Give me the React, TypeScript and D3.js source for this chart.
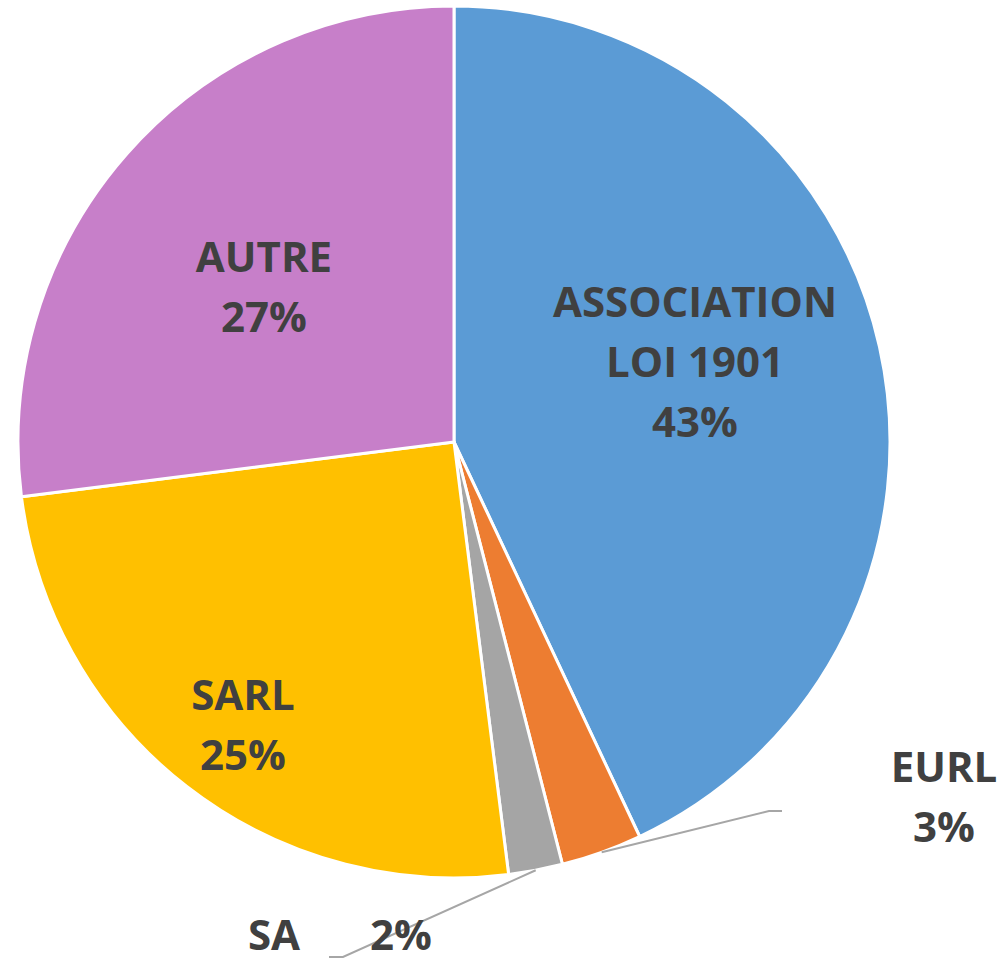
import React from "react";
import * as d3 from "d3";

const categories = ["ASSOCIATION LOI 1901", "EURL", "SA", "SARL", "AUTRE"];
const shares = [43, 3, 2, 25, 27];
const sliceColors = ["#5B9BD5", "#ED7D31", "#A5A5A5", "#FFC000", "#C77FC9"];

// label placement (layout only, not data)
const labelLayout = [
  { lines: ["ASSOCIATION", "LOI 1901", "43%"], x: 695, y: 317 },
  { lines: ["EURL", "3%"], x: 944, y: 782, leader: [[769, 811], [782, 811]] },
  { lines: ["SA", "2%"], inline: [274, 401], x: 0, y: 950, leader: [[343, 957], [329, 957]] },
  { lines: ["SARL", "25%"], x: 243, y: 710 },
  { lines: ["AUTRE", "27%"], x: 264, y: 272 },
];

const W = 1005;
const H = 963;
const cx = 454;
const cy = 442;
const R = 436;

export default function App() {
  const pie = d3.pie<number>().sort(null).value((d) => d);
  const arcs = pie(shares);
  const arc = d3.arc<d3.PieArcDatum<number>>().innerRadius(0).outerRadius(R);
  const edge = d3.arc<d3.PieArcDatum<number>>().innerRadius(R).outerRadius(R);

  return (
    <div style={{ position: "absolute", left: 0, top: 0 }}>
      <svg width={W} height={H} style={{ display: "block", background: "#fff" }}>
        <g transform={`translate(${cx},${cy})`}>
          {arcs.map((a, i) => (
            <path key={categories[i]} d={arc(a) || ""} fill={sliceColors[i]} stroke="#fff" strokeWidth={3} strokeLinejoin="round" />
          ))}
        </g>
        {arcs.map((a, i) => {
          const lay = labelLayout[i];
          if (!lay.leader) return null;
          const [ex, ey] = edge.centroid(a);
          const pts = [[cx + ex, cy + ey], ...lay.leader];
          return (
            <polyline
              key={"l" + i}
              points={pts.map((p) => p.join(",")).join(" ")}
              fill="none"
              stroke="#A6A6A6"
              strokeWidth={2}
            />
          );
        })}
        <g fontFamily="'Open Sans', sans-serif" fontWeight={700} fontSize={42} fill="#404040" textAnchor="middle">
          {labelLayout.map((lay, i) =>
            lay.inline ? (
              <g key={"t" + i}>
                <text x={lay.inline[0]} y={lay.y}>{lay.lines[0]}</text>
                <text x={lay.inline[1]} y={lay.y}>{lay.lines[1]}</text>
              </g>
            ) : (
              <text key={"t" + i} x={lay.x} y={lay.y}>
                {lay.lines.map((ln, j) => (
                  <tspan key={j} x={lay.x} dy={j === 0 ? 0 : 60}>{ln}</tspan>
                ))}
              </text>
            )
          )}
        </g>
      </svg>
    </div>
  );
}
